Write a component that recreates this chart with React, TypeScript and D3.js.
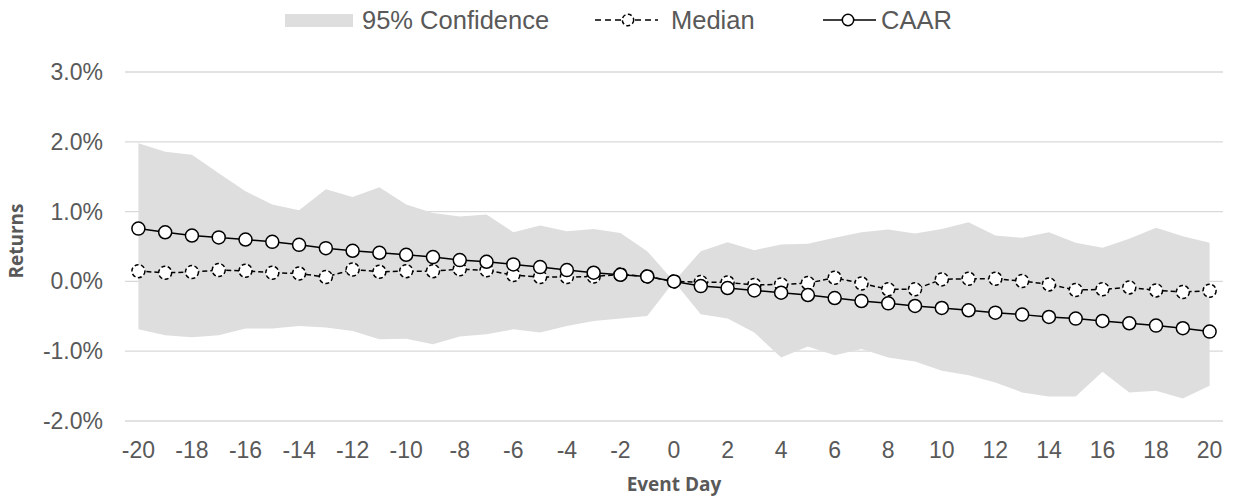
import React from "react";
import * as d3 from "d3";

const days: number[] = d3.range(-20, 21);
const caar: number[] = [0.757, 0.704, 0.657, 0.63, 0.6, 0.567, 0.524, 0.476, 0.439, 0.41, 0.381, 0.348, 0.305, 0.281, 0.243, 0.205, 0.162, 0.124, 0.095, 0.071, 0.0, -0.067, -0.095, -0.129, -0.162, -0.195, -0.238, -0.281, -0.314, -0.352, -0.381, -0.414, -0.448, -0.476, -0.51, -0.533, -0.567, -0.6, -0.633, -0.671, -0.719];
const median: number[] = [0.147, 0.124, 0.133, 0.162, 0.152, 0.124, 0.114, 0.062, 0.171, 0.138, 0.147, 0.147, 0.175, 0.16, 0.09, 0.062, 0.062, 0.07, 0.1, 0.07, 0.0, -0.01, -0.015, -0.05, -0.043, -0.024, 0.052, -0.029, -0.114, -0.114, 0.029, 0.038, 0.038, 0.005, -0.043, -0.124, -0.114, -0.086, -0.129, -0.152, -0.133];
const upper: number[] = [1.98, 1.857, 1.814, 1.55, 1.29, 1.1, 1.02, 1.32, 1.21, 1.35, 1.1, 0.98, 0.93, 0.957, 0.705, 0.8, 0.72, 0.752, 0.695, 0.433, 0.0, 0.433, 0.562, 0.448, 0.529, 0.538, 0.624, 0.705, 0.743, 0.686, 0.752, 0.848, 0.657, 0.624, 0.705, 0.552, 0.481, 0.61, 0.767, 0.648, 0.552];
const lower: number[] = [-0.686, -0.771, -0.8, -0.77, -0.676, -0.676, -0.638, -0.662, -0.709, -0.83, -0.82, -0.9, -0.79, -0.757, -0.686, -0.733, -0.638, -0.567, -0.533, -0.495, 0.0, -0.471, -0.533, -0.733, -1.09, -0.933, -1.057, -0.97, -1.09, -1.148, -1.28, -1.343, -1.448, -1.59, -1.648, -1.648, -1.295, -1.59, -1.567, -1.676, -1.495];
const yTicks: number[] = [-2, -1, 0, 1, 2, 3];
const xTickDays: number[] = d3.range(-20, 21, 2);

export default function App() {
  const W = 1237, H = 502;
  const left = 125, right = 1223, top = 72, bottom = 421;
  const x = d3.scaleBand<number>().domain(days).range([left, right]);
  const cx = (d: number) => (x(d) as number) + x.bandwidth() / 2;
  const y = d3.scaleLinear().domain([-2, 3]).range([bottom, top]);

  const area = d3.area<number>()
    .x((_, i) => cx(days[i]))
    .y0((_, i) => y(lower[i]))
    .y1((_, i) => y(upper[i]));
  const line = d3.line<number>().x((_, i) => cx(days[i])).y((v) => y(v));

  const font = "'Liberation Sans', Arial, sans-serif";
  const titleFont = "'Open Sans', sans-serif";
  const textCol = "#595959";
  const r = 6.5;
  const ly = 20;
  const fmtPct = (t: number) => t.toFixed(1) + "%";

  return (
    <svg width={W} height={H} style={{ position: "absolute", left: 0, top: 0, background: "#fff" }}>
      {yTicks.map((t) => (
        <line key={"g" + t} x1={left} x2={right} y1={y(t)} y2={y(t)} stroke="#d9d9d9" strokeWidth={1.3} />
      ))}
      <path d={area(days) || ""} fill="#dedede" />
      <path d={line(median) || ""} fill="none" stroke="#000" strokeWidth={1.5} strokeDasharray="5,3" />
      {median.map((v, i) => (
        <circle key={"m" + i} cx={cx(days[i])} cy={y(v)} r={r} fill="#fff" stroke="#000" strokeWidth={1.5} strokeDasharray="4,2.5" />
      ))}
      <path d={line(caar) || ""} fill="none" stroke="#000" strokeWidth={1.5} />
      {caar.map((v, i) => (
        <circle key={"c" + i} cx={cx(days[i])} cy={y(v)} r={r} fill="#fff" stroke="#000" strokeWidth={1.5} />
      ))}
      {yTicks.map((t) => (
        <text key={"yt" + t} x={103} y={y(t)} dy="0.35em" textAnchor="end" fontFamily={font} fontSize={23} fill={textCol}>
          {fmtPct(t)}
        </text>
      ))}
      {xTickDays.map((d) => (
        <text key={"xt" + d} x={cx(d)} y={450} dy="0.35em" textAnchor="middle" fontFamily={font} fontSize={23} fill={textCol}>
          {String(d)}
        </text>
      ))}
      <text x={(left + right) / 2} y={484} dy="0.35em" textAnchor="middle" fontFamily={titleFont} fontWeight={700} fontSize={19} fill={textCol}>
        Event Day
      </text>
      <text transform={`translate(16,241) rotate(-90)`} dy="0.35em" textAnchor="middle" fontFamily={titleFont} fontWeight={700} fontSize={19} fill={textCol}>
        Returns
      </text>
      {/* Legend */}
      <rect x={285} y={14} width={68} height={13} fill="#dedede" />
      <text x={362} y={ly} dy="0.35em" fontFamily={font} fontSize={25.5} fill={textCol}>95% Confidence</text>
      <line x1={595} x2={658} y1={ly} y2={ly} stroke="#000" strokeWidth={1.5} strokeDasharray="6,4" />
      <circle cx={628} cy={ly} r={5.7} fill="#fff" stroke="#000" strokeWidth={1.5} strokeDasharray="4,2.5" />
      <text x={671} y={ly} dy="0.35em" fontFamily={font} fontSize={25.5} fill={textCol}>Median</text>
      <line x1={823} x2={876} y1={ly} y2={ly} stroke="#000" strokeWidth={1.5} />
      <circle cx={848} cy={ly} r={5.7} fill="#fff" stroke="#000" strokeWidth={1.5} />
      <text x={881} y={ly} dy="0.35em" fontFamily={font} fontSize={25.5} fill={textCol}>CAAR</text>
    </svg>
  );
}
